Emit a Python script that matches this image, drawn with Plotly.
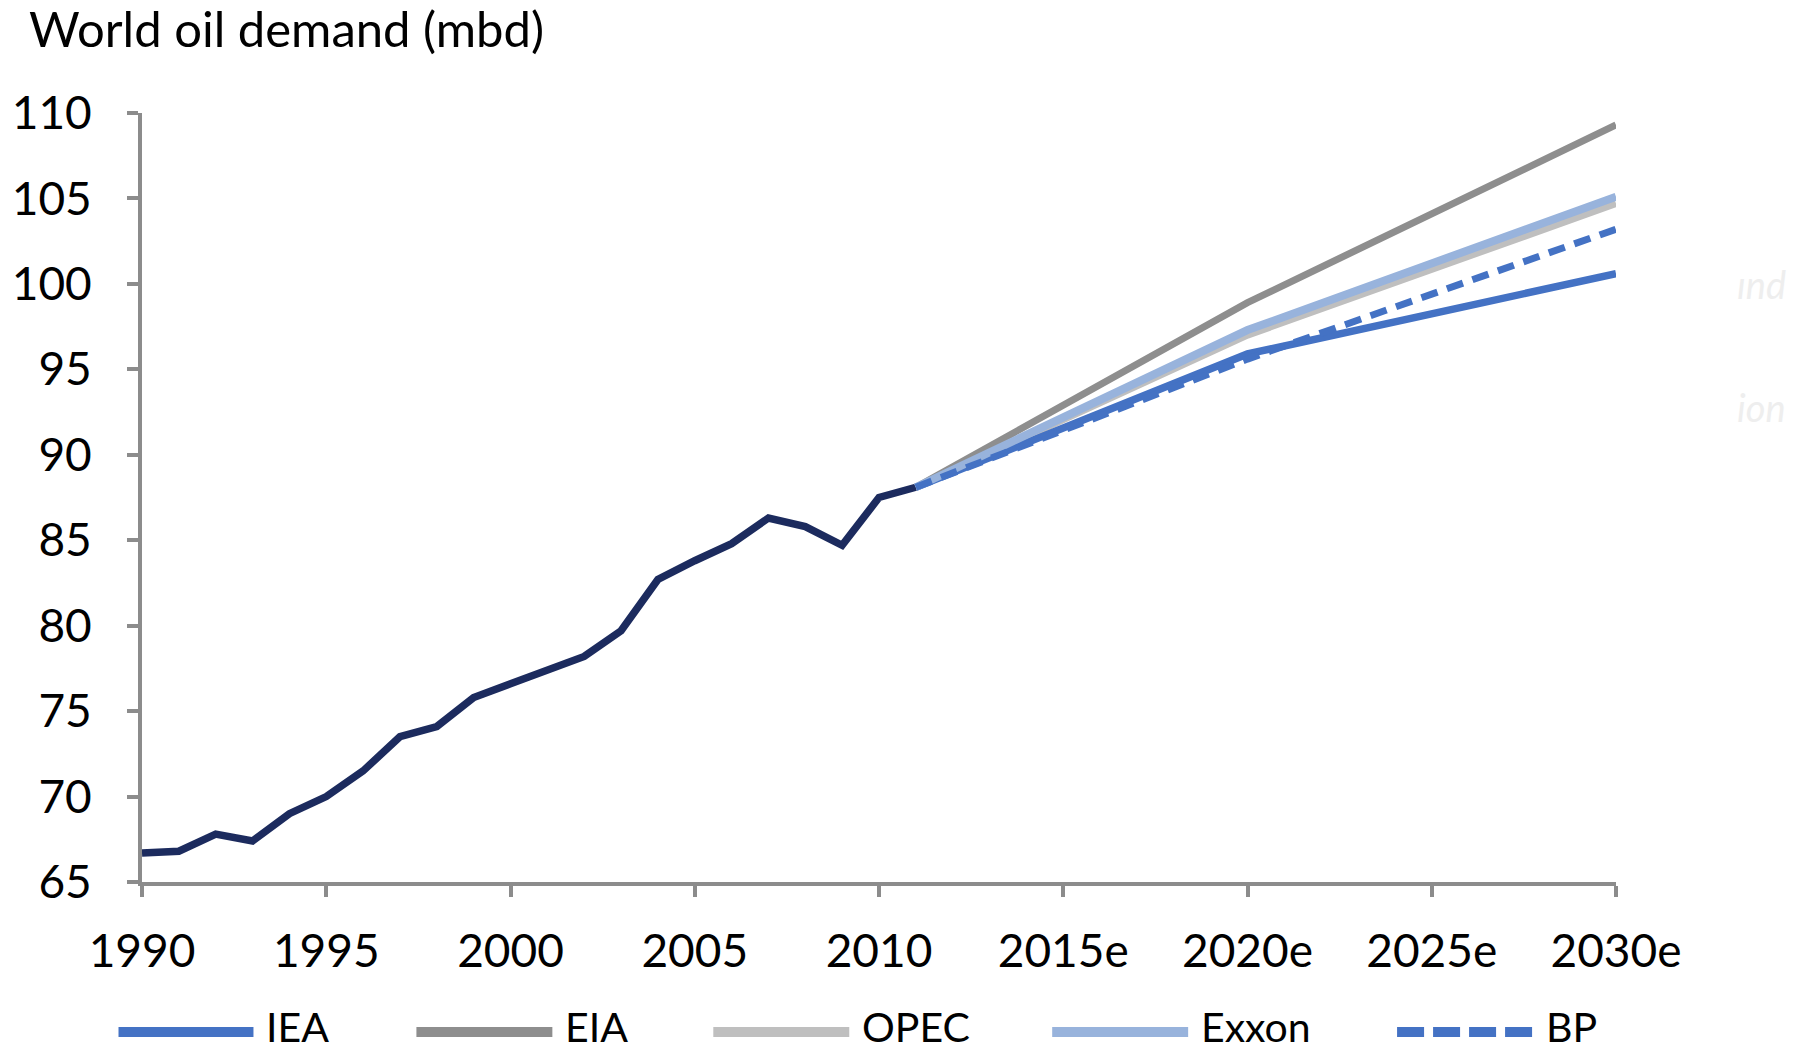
import plotly.graph_objects as go

# Historical world oil demand, million barrels per day
hist_years = list(range(1990, 2012))
hist_demand = [66.7, 66.8, 67.8, 67.4, 69.0, 70.0, 71.5, 73.5, 74.1, 75.8, 76.6,
               77.4, 78.2, 79.7, 82.7, 83.8, 84.8, 86.3, 85.8, 84.7, 87.5, 88.1]

# Agency projections from the 2011 base year
proj_years = [2011, 2020, 2030]
iea = [88.1, 95.9, 100.6]
eia = [88.1, 98.9, 109.3]
opec = [88.1, 97.0, 104.7]
exxon = [88.1, 97.3, 105.1]
bp = [88.1, 95.6, 103.2]

tick_years = [1990, 1995, 2000, 2005, 2010, 2015, 2020, 2025, 2030]
tick_labels = ["1990", "1995", "2000", "2005", "2010", "2015e", "2020e", "2025e", "2030e"]
y_ticks = [65, 70, 75, 80, 85, 90, 95, 100, 105, 110]

series = [
    # name, values, colour, dash, width
    ("EIA", eia, "#8e8e8e", "solid", 7),
    ("OPEC", opec, "#bfbfbf", "solid", 7),
    ("IEA", iea, "#4472c4", "solid", 7.5),
    ("Exxon", exxon, "#98b3dc", "solid", 8),
    ("BP", bp, "#4472c4", "17px,10px", 7),
]
legend_order = ["IEA", "EIA", "OPEC", "Exxon", "BP"]

FONT = "Lato"
AXIS_GREY = "#8c8c8c"

fig = go.Figure()
fig.add_trace(go.Scatter(x=hist_years, y=hist_demand, mode="lines",
                         line=dict(color="#1c2b5e", width=7.5),
                         showlegend=False, cliponaxis=False))
for name, vals, col, dash, w in series:
    fig.add_trace(go.Scatter(x=proj_years, y=vals, mode="lines", name=name,
                             line=dict(color=col, width=w, dash=dash),
                             showlegend=False, cliponaxis=False))

W, H = 1803, 1052
ml, mr, mt, mb = 141.5, 187, 112.7, 170
pw, ph = W - ml - mr, H - mt - mb


def px_x(px):
    return (px - ml) / pw


def px_y(py):
    return (H - mb - py) / ph


# Legend row drawn beneath the axis
style = {name: (col, dash) for name, _, col, dash, _ in series}
legend_pos = {"IEA": (118, 253), "EIA": (416, 552), "OPEC": (713, 849),
              "Exxon": (1052, 1188), "BP": (1397, 1533)}
legend_line_y = 1032
legend_text_y = 1027
shapes = []
annotations = []
for name in legend_order:
    col, dash = style[name]
    x0, x1 = legend_pos[name]
    shapes.append(dict(type="line", xref="paper", yref="paper",
                       x0=px_x(x0), x1=px_x(x1),
                       y0=px_y(legend_line_y), y1=px_y(legend_line_y),
                       line=dict(color=col, width=10,
                                 dash="27px,9px" if dash != "solid" else "solid")))
    annotations.append(dict(text=name, xref="paper", yref="paper",
                            x=px_x(x1 + 12), y=px_y(legend_text_y), xanchor="left",
                            yanchor="middle", showarrow=False, borderpad=0,
                            font=dict(family=FONT, size=41, color="#000000")))

# Chart heading
annotations.append(dict(text="World oil demand (mbd)", xref="paper", yref="paper",
                        x=px_x(27), y=px_y(27.5), xanchor="left", yanchor="middle",
                        showarrow=False, borderpad=0,
                        font=dict(family=FONT, size=49, color="#000000")))

# Faint fragments of surrounding page text at the right edge
for txt, ty in [("ınd", 284), ("ion", 407)]:
    annotations.append(dict(text="<i>" + txt + "</i>", xref="paper", yref="paper",
                            x=px_x(1735), y=px_y(ty), xanchor="left", yanchor="middle",
                            showarrow=False,
                            font=dict(family=FONT, size=38, color="#eeeeee")))

fig.update_layout(
    width=W, height=H,
    margin=dict(l=ml, r=mr, t=mt, b=mb, autoexpand=False),
    paper_bgcolor="white", plot_bgcolor="white",
    font=dict(family=FONT, color="#000000"),
    shapes=shapes, annotations=annotations,
    showlegend=False,
    xaxis=dict(range=[1990, 2030], tickvals=tick_years, ticktext=tick_labels,
               automargin=False,
               showgrid=False, zeroline=False, showline=True, linecolor=AXIS_GREY,
               linewidth=4, ticks="outside", ticklen=11, tickwidth=4,
               tickcolor=AXIS_GREY, ticklabelstandoff=15,
               tickfont=dict(family=FONT, size=46, color="#000000")),
    yaxis=dict(range=[65, 110], tickvals=y_ticks, showgrid=False, zeroline=False,
               automargin=False,
               showline=True, linecolor=AXIS_GREY, linewidth=4, ticks="outside",
               ticklen=11, tickwidth=4, tickcolor=AXIS_GREY, ticklabelstandoff=26,
               tickfont=dict(family=FONT, size=46, color="#000000")),
)

fig.write_html("out.html")
